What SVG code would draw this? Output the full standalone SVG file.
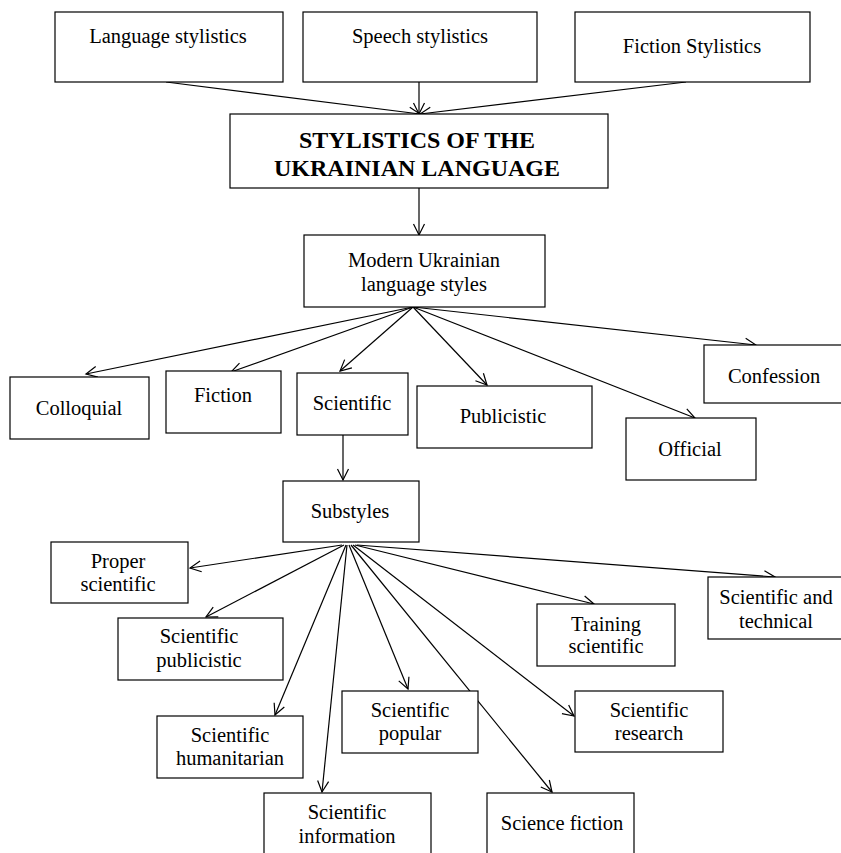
<svg xmlns="http://www.w3.org/2000/svg" width="841" height="853" viewBox="0 0 841 853">
<defs>
<marker id="arr" markerUnits="userSpaceOnUse" markerWidth="14" markerHeight="14" viewBox="0 0 14 14" refX="12" refY="7" orient="auto">
<path d="M1,1.5 L12,7 L1,12.5" fill="none" stroke="#000" stroke-width="1.2"/>
</marker>
<style>
rect{fill:#fff;stroke:#000;stroke-width:1.2}
text{font-family:"Liberation Serif","Times New Roman",serif;font-size:20.5px;fill:#000;text-anchor:middle}
.b{font-weight:bold;font-size:24px}
#connectors line{stroke:#000;stroke-width:1.2;marker-end:url(#arr)}
</style>
</defs>
<rect x="0" y="0" width="841" height="853" style="stroke:none"/>
<g id="connectors">
<line x1="166" y1="82" x2="420" y2="114"/>
<line x1="419" y1="82" x2="419" y2="114"/>
<line x1="686" y1="82" x2="420" y2="114"/>
<line x1="419" y1="188" x2="419" y2="235"/>
<line x1="413" y1="307" x2="86" y2="374"/>
<line x1="413" y1="307" x2="231" y2="372"/>
<line x1="413" y1="307" x2="340" y2="371"/>
<line x1="413" y1="307" x2="487" y2="385"/>
<line x1="413" y1="307" x2="695" y2="418"/>
<line x1="413" y1="307" x2="756" y2="345"/>
<line x1="343" y1="435" x2="343" y2="480"/>
<line x1="342" y1="545" x2="190" y2="568"/>
<line x1="344" y1="545" x2="206" y2="617"/>
<line x1="346" y1="545" x2="275" y2="715"/>
<line x1="347" y1="545" x2="322" y2="792"/>
<line x1="349" y1="545" x2="408" y2="689"/>
<line x1="351" y1="545" x2="552" y2="792"/>
<line x1="353" y1="545" x2="574" y2="716"/>
<line x1="355" y1="545" x2="594" y2="604"/>
<line x1="357" y1="545" x2="775" y2="577"/>
</g>
<g id="language-stylistics"><rect x="55" y="12" width="228" height="70"/><text x="168" y="43">Language stylistics</text></g>
<g id="speech-stylistics"><rect x="303" y="12" width="234" height="70"/><text x="420" y="43">Speech stylistics</text></g>
<g id="fiction-stylistics"><rect x="575" y="12" width="235" height="70"/><text x="692" y="53">Fiction Stylistics</text></g>
<g id="stylistics"><rect x="230" y="114" width="378" height="74"/><text class="b" x="417" y="148">STYLISTICS OF THE</text><text class="b" x="417" y="176">UKRAINIAN LANGUAGE</text></g>
<g id="modern"><rect x="304" y="235" width="241" height="72"/><text x="424" y="267">Modern Ukrainian</text><text x="424" y="291">language styles</text></g>
<g id="colloquial"><rect x="10" y="377" width="139" height="62"/><text x="79" y="415">Colloquial</text></g>
<g id="fiction"><rect x="166" y="371" width="115" height="62"/><text x="223" y="402">Fiction</text></g>
<g id="scientific"><rect x="297" y="373" width="111" height="62"/><text x="352" y="410">Scientific</text></g>
<g id="publicistic"><rect x="417" y="386" width="175" height="62"/><text x="503" y="423">Publicistic</text></g>
<g id="official"><rect x="626" y="418" width="130" height="62"/><text x="690" y="456">Official</text></g>
<g id="confession"><rect x="704" y="345" width="140" height="58"/><text x="774" y="383">Confession</text></g>
<g id="substyles"><rect x="283" y="481" width="136" height="61"/><text x="350" y="518">Substyles</text></g>
<g id="proper-scientific"><rect x="51" y="542" width="137" height="61"/><text x="118" y="568">Proper</text><text x="118" y="591">scientific</text></g>
<g id="scientific-publicistic"><rect x="118" y="618" width="165" height="62"/><text x="199" y="643">Scientific</text><text x="199" y="667">publicistic</text></g>
<g id="training-scientific"><rect x="537" y="604" width="138" height="62"/><text x="606" y="631">Training</text><text x="606" y="653">scientific</text></g>
<g id="scientific-technical"><rect x="708" y="577" width="136" height="62"/><text x="776" y="604">Scientific and</text><text x="776" y="628">technical</text></g>
<g id="scientific-humanitarian"><rect x="157" y="716" width="146" height="62"/><text x="230" y="742">Scientific</text><text x="230" y="765">humanitarian</text></g>
<g id="scientific-popular"><rect x="342" y="691" width="136" height="62"/><text x="410" y="717">Scientific</text><text x="410" y="740">popular</text></g>
<g id="scientific-research"><rect x="575" y="691" width="148" height="61"/><text x="649" y="717">Scientific</text><text x="649" y="740">research</text></g>
<g id="scientific-information"><rect x="264" y="793" width="167" height="64"/><text x="347" y="819">Scientific</text><text x="347" y="843">information</text></g>
<g id="science-fiction"><rect x="487" y="793" width="147" height="64"/><text x="562" y="830">Science fiction</text></g>
</svg>
